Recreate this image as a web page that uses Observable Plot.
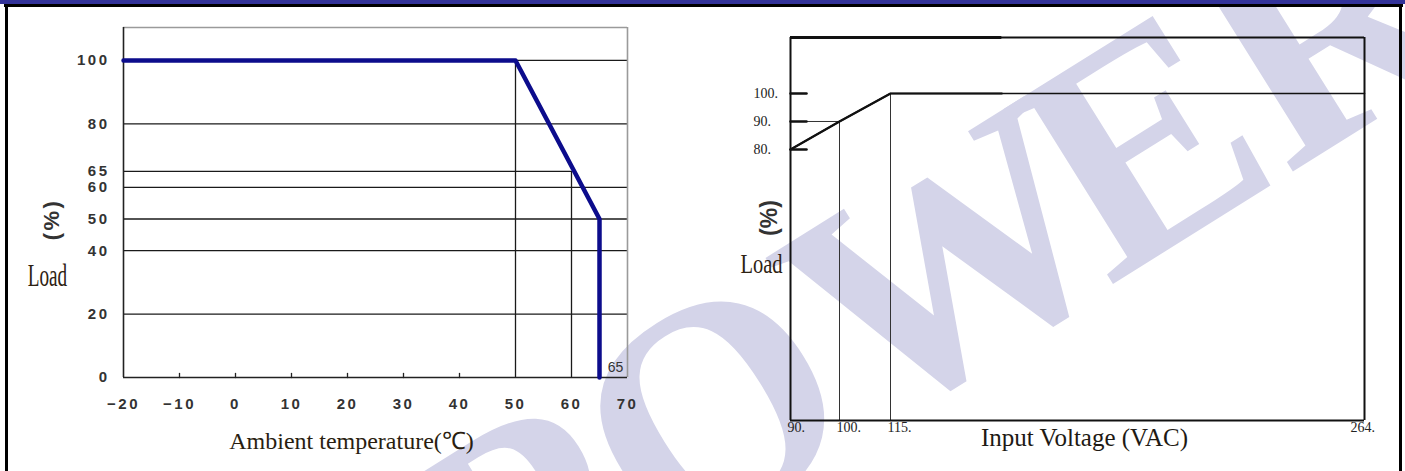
<!DOCTYPE html>
<html><head><meta charset="utf-8">
<script src="https://cdn.jsdelivr.net/npm/d3@7"></script>
<script src="https://cdn.jsdelivr.net/npm/@observablehq/plot@0.6"></script>
<style>
html,body{margin:0;padding:0;background:#fff;}
#root{position:relative;width:1405px;height:471px;overflow:hidden;background:#fff;}
#root > *{position:absolute;top:0;}
.lt [aria-label="y-axis tick label"] text,.lt [aria-label="x-axis tick label"] text{letter-spacing:2.5px;}
</style></head><body><div id="root"></div>
<script>
// ---- Left chart: derating vs ambient temperature ----
const tempX = [-20, 50, 65, 65];
const tempLoad = [100, 100, 50, 0];
const tempTicks = [-20, -10, 0, 10, 20, 30, 40, 50, 60, 70];
const tempMinorTicks = [-10, 0, 10, 20, 30, 40];
const loadTicks = [0, 20, 40, 50, 60, 65, 80, 100];
const loadGridFull = [20, 40, 50, 60, 80, 100];
const loadGridShort = [{y: 65, xEnd: 60}];
const tempGuides = [{x: 50, yEnd: 100}, {x: 60, yEnd: 65}];
const cutoffLabel = [{x: 65, y: 0, text: "65"}];

// ---- Right chart: derating vs input voltage ----
const voltX = [90, 100, 115, 264];
const voltLoad = [80, 90, 100, 100];
const voltTicksY = [100, 90, 80];
const voltTicksX = [90, 100, 115, 264];
const voltGuides = [{x: 100, y: 90}, {x: 115, y: 100}];

const root = document.getElementById("root");
const ns = "http://www.w3.org/2000/svg";

// watermark (behind the charts)
const wm = document.createElementNS(ns, "svg");
wm.setAttribute("width", 1405); wm.setAttribute("height", 471);
wm.style.left = "0px";
const wt = document.createElementNS(ns, "text");
wt.setAttribute("transform", "translate(500,667) rotate(-32)");
wt.setAttribute("text-anchor", "start");
wt.setAttribute("font-family", "Liberation Serif, Times New Roman, serif");
wt.setAttribute("font-weight", "bold");
wt.setAttribute("font-size", 315);
wt.setAttribute("fill", "#d4d4e9");
const ts1 = document.createElementNS(ns, "tspan"); ts1.textContent = "POW";
const ts2 = document.createElementNS(ns, "tspan"); ts2.textContent = "ER"; ts2.setAttribute("dx", -35);
wt.appendChild(ts1); wt.appendChild(ts2);
wm.appendChild(wt);
root.appendChild(wm);

const tickShape = {draw(ctx, l) { ctx.moveTo(0, 0); ctx.lineTo(0, -l); }};
const tempPts = tempX.map((x, i) => ({x, y: tempLoad[i]}));
const LT = 110.4;
const numFont = "Liberation Sans, Arial, sans-serif";
const serif = "Liberation Serif, Times New Roman, serif";

// horizontally condense a text around its own centre (in its local coordinates)
function squash(svg, content, sx) {
  svg.querySelectorAll("text").forEach(t => {
    if (t.textContent === content) {
      const b = t.getBBox();
      const cx = b.x + b.width / 2;
      const old = t.getAttribute("transform") || "";
      t.setAttribute("transform", `${old} translate(${cx},0) scale(${sx},1) translate(${-cx},0)`);
    }
  });
}

const left = Plot.plot({
  width: 700, height: 471,
  marginLeft: 123, marginRight: 73, marginTop: 27, marginBottom: 94,
  x: {domain: [-20, 70]},
  y: {domain: [0, LT]},
  style: {background: "transparent", overflow: "visible"},
  marks: [
    Plot.ruleY(loadGridFull, {x1: -20, x2: 70, stroke: "#1a1a1a", strokeWidth: 1.3}),
    Plot.ruleY(loadGridShort, {y: "y", x1: -20, x2: "xEnd", stroke: "#1a1a1a", strokeWidth: 1.3}),
    Plot.ruleX(tempGuides, {x: "x", y1: 0, y2: "yEnd", stroke: "#1a1a1a", strokeWidth: 1.3}),
    Plot.ruleY([LT], {x1: -20, x2: 70, stroke: "#9a9a9a", strokeWidth: 1.6}),
    Plot.ruleX([70], {y1: 0, y2: LT, stroke: "#9a9a9a", strokeWidth: 1.6}),
    Plot.ruleX([-20], {y1: 0, y2: LT, stroke: "#222", strokeWidth: 1.6}),
    Plot.ruleY([0], {x1: -20, x2: 70, stroke: "#222", strokeWidth: 1.6}),
    Plot.vector(tempMinorTicks, {x: d => d, y: 0, length: 4, anchor: "start", shape: tickShape, stroke: "#222", strokeWidth: 1.3}),
    Plot.line(tempPts, {x: "x", y: "y", stroke: "#0c0c8c", strokeWidth: 4.5}),
    Plot.axisY(loadTicks, {tickSize: 0, tickPadding: 14, fontSize: 15, fontWeight: "bold", fill: "#333", fontFamily: numFont}),
    Plot.axisX(tempTicks, {tickSize: 0, tickPadding: 21, fontSize: 15, fontWeight: "bold", fill: "#333", fontFamily: numFont, tickFormat: d => d < 0 ? "\u2212" + (-d) : String(d)}),
    Plot.text(cutoffLabel, {x: "x", y: "y", text: "text", dx: 16, dy: -10, fontSize: 14, fill: "#333", fontFamily: numFont}),
    Plot.text(["(%)"], {frameAnchor: "left", textAnchor: "middle", dx: -72, dy: 17, rotate: -90, fontSize: 22, fontWeight: "bold", fill: "#333", fontFamily: numFont}),
    Plot.text(["Load"], {frameAnchor: "left", textAnchor: "middle", lineAnchor: "middle", dx: -76, dy: 73, fontSize: 32, fill: "#2e2212", fontFamily: serif}),
    Plot.text(["Ambient temperature(\u2103)"], {frameAnchor: "bottom", lineAnchor: "middle", dx: -24, dy: 64, fontSize: 24, fill: "#2a1e10", fontFamily: serif})
  ]
});
left.classList.add("lt");
left.style.left = "0px";
left.querySelectorAll('[aria-label="text"] text').forEach(t => { if (t.textContent === "(%)") t.style.letterSpacing = "2.5px"; });
root.appendChild(left);
squash(left, "Load", 0.6);

const voltPts = voltX.map((x, i) => ({x, y: voltLoad[i]}));
const RB = -16.8, RT = 120;
// piecewise position of the voltage axis as drawn in the original (unequal spacing)
const voltPos = d3.scaleLinear().domain([90, 100, 115, 264]).range([0, 49, 100, 574]);
const right = Plot.plot({
  width: 705, height: 471,
  marginLeft: 90, marginRight: 41, marginTop: 37, marginBottom: 51,
  x: {transform: voltPos, domain: [0, 574], axis: null},
  y: {domain: [RB, RT], axis: null},
  style: {background: "transparent", overflow: "visible"},
  marks: [
    Plot.ruleY([voltGuides[0].y], {x1: voltX[0], x2: voltGuides[0].x, stroke: "#333", strokeWidth: 1}),
    Plot.ruleX(voltGuides, {x: "x", y1: RB, y2: "y", stroke: "#333", strokeWidth: 1}),
    Plot.ruleY([RT], {x1: 90, x2: 264, stroke: "#111", strokeWidth: 2}),
    Plot.ruleY([RT], {x1: 90, x2: 150, stroke: "#111", strokeWidth: 3}),
    Plot.ruleX([264], {y1: RB, y2: RT, stroke: "#111", strokeWidth: 2}),
    Plot.ruleX([90], {y1: RB, y2: RT, stroke: "#111", strokeWidth: 2}),
    Plot.ruleY([RB], {x1: 90, x2: 264, stroke: "#111", strokeWidth: 2}),
    Plot.line(voltPts, {x: "x", y: "y", stroke: "#111", strokeWidth: 1.6}),
    Plot.line(voltPts.slice(0, 3).concat([{x: 150, y: 100}]), {x: "x", y: "y", stroke: "#111", strokeWidth: 2.2}),
    Plot.vector(voltTicksY, {x: 90, y: d => d, length: 16, rotate: 90, anchor: "start", shape: tickShape, stroke: "#111", strokeWidth: 2.5}),
    Plot.text(voltTicksY, {frameAnchor: "left", y: d => d, text: d => d + ".", textAnchor: "start", dx: -37, fontSize: 14, fill: "#222", fontFamily: serif}),
    Plot.text(voltTicksX.slice(0, -1), {x: d => d, frameAnchor: "bottom", lineAnchor: "middle", text: d => d + ".", textAnchor: "start", dx: -3, dy: 7, fontSize: 14, fill: "#222", fontFamily: serif}),
    Plot.text(voltTicksX.slice(-1), {x: d => d, frameAnchor: "bottom", lineAnchor: "middle", text: d => d + ".", textAnchor: "start", dx: -14, dy: 7, fontSize: 14, fill: "#222", fontFamily: serif}),
    Plot.text(["(%)"], {frameAnchor: "left", textAnchor: "middle", dx: -21, dy: -11, rotate: -90, fontSize: 23, fontWeight: "bold", fill: "#333", fontFamily: numFont}),
    Plot.text(["Load"], {frameAnchor: "left", textAnchor: "middle", lineAnchor: "middle", dx: -29, dy: 35, fontSize: 27, fill: "#2e2212", fontFamily: serif}),
    Plot.text(["Input Voltage (VAC)"], {frameAnchor: "bottom", lineAnchor: "middle", dx: 7, dy: 17, fontSize: 25, fill: "#1e1a14", fontFamily: serif})
  ]
});
right.style.left = "700px";
root.appendChild(right);
squash(right, "Load", 0.76);

// page frame
function bar(l, t, w, h, c) {
  const d = document.createElement("div");
  Object.assign(d.style, {left: l + "px", top: t + "px", width: w + "px", height: h + "px", background: c});
  root.appendChild(d);
}
bar(0, 0, 1405, 4, "#333399");
bar(4, 4, 1399, 3, "#000");
bar(5, 4, 3, 467, "#000");
bar(1399, 4, 3, 467, "#000");
</script>
</body></html>
